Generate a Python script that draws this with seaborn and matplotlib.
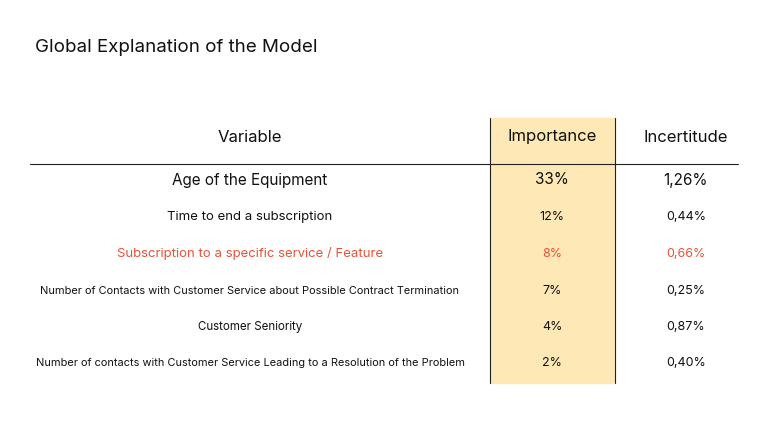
import matplotlib
matplotlib.use("Agg")
import matplotlib.pyplot as plt
import seaborn as sns

sns.set_theme(style="white")
plt.rcParams['font.family'] = ['Inter', 'DejaVu Sans']

variables = [
    "Age of the Equipment",
    "Time to end a subscription",
    "Subscription to a specific service / Feature",
    "Number of Contacts with Customer Service about Possible Contract Termination",
    "Customer Seniority",
    "Number of contacts with Customer Service Leading to a Resolution of the Problem",
]
importance = ["33%", "12%", "8%", "7%", "4%", "2%"]
incertitude = ["1,26%", "0,44%", "0,66%", "0,25%", "0,87%", "0,40%"]
highlight_row = 2

fig = plt.figure(figsize=(7.68, 4.32), dpi=100)
ax = fig.add_axes([0, 0, 1, 1])
ax.set_xlim(0, 768)
ax.set_ylim(432, 0)
ax.axis("off")

# highlighted importance column
ax.fill_between([490, 615], 118, 383, color="#FDE8B6", zorder=0)
ax.plot([490, 490], [118, 383], color="#222222", lw=0.8)
ax.plot([615, 615], [118, 383], color="#222222", lw=0.8)
ax.plot([30, 738], [164, 164], color="#222222", lw=0.8)

ax.text(35, 47, "Global Explanation of the Model", fontsize=13.5, va="center", ha="left", color="#111111")

xs = [250, 552, 686]
for x, h in zip(xs, ["Variable", "Importance", "Incertitude"]):
    ax.text(x, 137, h, fontsize=12, ha="center", va="center", color="#111111")

ys = [180, 217, 254, 291, 327, 363]
var_sizes = [11, 9.5, 9.5, 7.9, 8.3, 7.9]
for i, (v, imp, inc) in enumerate(zip(variables, importance, incertitude)):
    col = "#E5533A" if i == highlight_row else "#111111"
    for x, t in zip(xs, [v, imp, inc]):
        ax.text(x, ys[i], t, fontsize=var_sizes[i] if x == xs[0] else (11 if i == 0 else 9),
                ha="center", va="center", color=col)

fig.savefig("out.png", dpi=100)
